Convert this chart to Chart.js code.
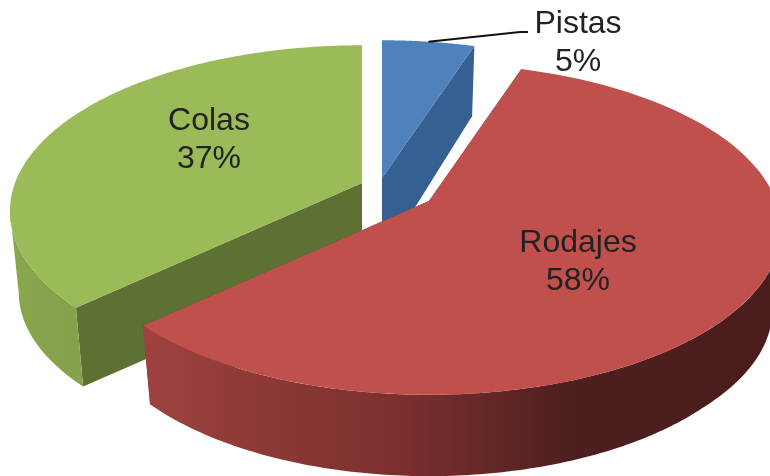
<!DOCTYPE html>
<html>
<head>
  <title>Pistas, Rodajes, Colas</title>
  <script src="https://cdn.jsdelivr.net/npm/chart.js"></script>
  <style>
    body { margin: 0; background: #fff; }
    canvas { display: block; }
  </style>
</head>
<body>
  <canvas id="pie" width="770" height="476"></canvas>
  <script>
    const categories = ['Pistas', 'Rodajes', 'Colas'];
    const shares = [5, 58, 37];

    const topColors = ['#4f81bd', '#c0504d', '#9bbb59'];
    const faceColors = ['#376092', '#7a3230', '#5d7133'];

    // where the tip of each exploded slice sits on the page
    const tips = [[382, 178], [429, 201], [362, 183]];
    const labelSpots = [[578, 24], [578, 243], [209, 121]];

    // tilted disc, seen in perspective
    const radius = 347;
    const squash = 161;
    const persp = 0.169;
    const lowerScale = 0.975;

    function depthAt(v) {
      if (v < 0) return 82 + 16 * v;
      return v > 0.7 ? 82 + 14 * (v - 0.7) : 82;
    }

    function project(i, theta, rho, lower) {
      const u = rho * Math.sin(theta);
      const v = -rho * Math.cos(theta);
      const w = 1 - persp * v;
      const s = lower ? lowerScale : 1;
      const depth = lower ? depthAt(v) : 0;
      return [tips[i][0] + s * radius * u / w, tips[i][1] + s * squash * v / w + depth];
    }

    function fillPoly(ctx, pts, fill) {
      ctx.beginPath();
      pts.forEach((p, n) => (n ? ctx.lineTo(p[0], p[1]) : ctx.moveTo(p[0], p[1])));
      ctx.closePath();
      ctx.fillStyle = fill;
      ctx.fill();
    }

    function rim(i, a, b, lower) {
      const pts = [];
      const steps = 160;
      for (let n = 0; n <= steps; n++) {
        pts.push(project(i, a + (b - a) * n / steps, 1, lower));
      }
      return pts;
    }

    function wallFill(ctx, i) {
      const g = ctx.createLinearGradient(0, 0, 770, 0);
      if (i === 1) {
        g.addColorStop(0.19, '#9e4240');
        g.addColorStop(0.38, '#883733');
        g.addColorStop(0.52, '#7b302e');
        g.addColorStop(0.61, '#682a28');
        g.addColorStop(0.74, '#4e1f1e');
        g.addColorStop(1, '#4a1d1c');
      } else {
        g.addColorStop(0, '#8aa850');
        g.addColorStop(0.12, '#84a04a');
      }
      return g;
    }

    // only the part of the outer wall that faces the viewer
    function drawWall(ctx, i, a, b) {
      const edge = Math.acos(-persp);
      const from = Math.max(a, edge);
      const to = Math.min(b, 2 * Math.PI - edge);
      if (from >= to) return;
      fillPoly(ctx, rim(i, from, to, false).concat(rim(i, from, to, true).reverse()), wallFill(ctx, i));
    }

    const pie3d = {
      id: 'pie3d',
      beforeDatasetsDraw(chart) {
        const ctx = chart.ctx;
        const arcs = chart.getDatasetMeta(0).data;
        // back to front, so Rodajes ends up over the others
        [2, 0, 1].forEach((i) => {
          const a = arcs[i].startAngle + Math.PI / 2;
          const b = arcs[i].endAngle + Math.PI / 2;
          // cut faces
          [a, b].forEach((t) => {
            fillPoly(ctx, [
              project(i, t, 0, false), project(i, t, 1, false),
              project(i, t, 1, true), project(i, t, 0, true)
            ], faceColors[i]);
          });
          drawWall(ctx, i, a, b);
          // top
          fillPoly(ctx, [project(i, a, 0, false)].concat(rim(i, a, b, false)), topColors[i]);
        });

        // leader line for the small slice
        const mid = (arcs[0].startAngle + arcs[0].endAngle) / 2 + Math.PI / 2;
        const from = project(0, mid, 1, false);
        ctx.beginPath();
        ctx.moveTo(from[0], from[1]);
        ctx.lineTo(520, 32);
        ctx.lineTo(528, 32);
        ctx.strokeStyle = '#111';
        ctx.lineWidth = 2;
        ctx.stroke();

        ctx.font = '32px "Liberation Sans", Arial, sans-serif';
        ctx.fillStyle = '#222';
        ctx.textAlign = 'center';
        ctx.textBaseline = 'middle';
        categories.forEach((name, i) => {
          ctx.fillText(name, labelSpots[i][0], labelSpots[i][1]);
          ctx.fillText(shares[i] + '%', labelSpots[i][0], labelSpots[i][1] + 38);
        });
        return false;
      }
    };

    new Chart(document.getElementById('pie'), {
      type: 'pie',
      data: {
        labels: categories,
        datasets: [{ data: shares, backgroundColor: topColors, borderWidth: 0 }]
      },
      options: {
        responsive: false,
        animation: false,
        plugins: { legend: { display: false }, tooltip: { enabled: false } }
      },
      plugins: [pie3d]
    });
  </script>
</body>
</html>
